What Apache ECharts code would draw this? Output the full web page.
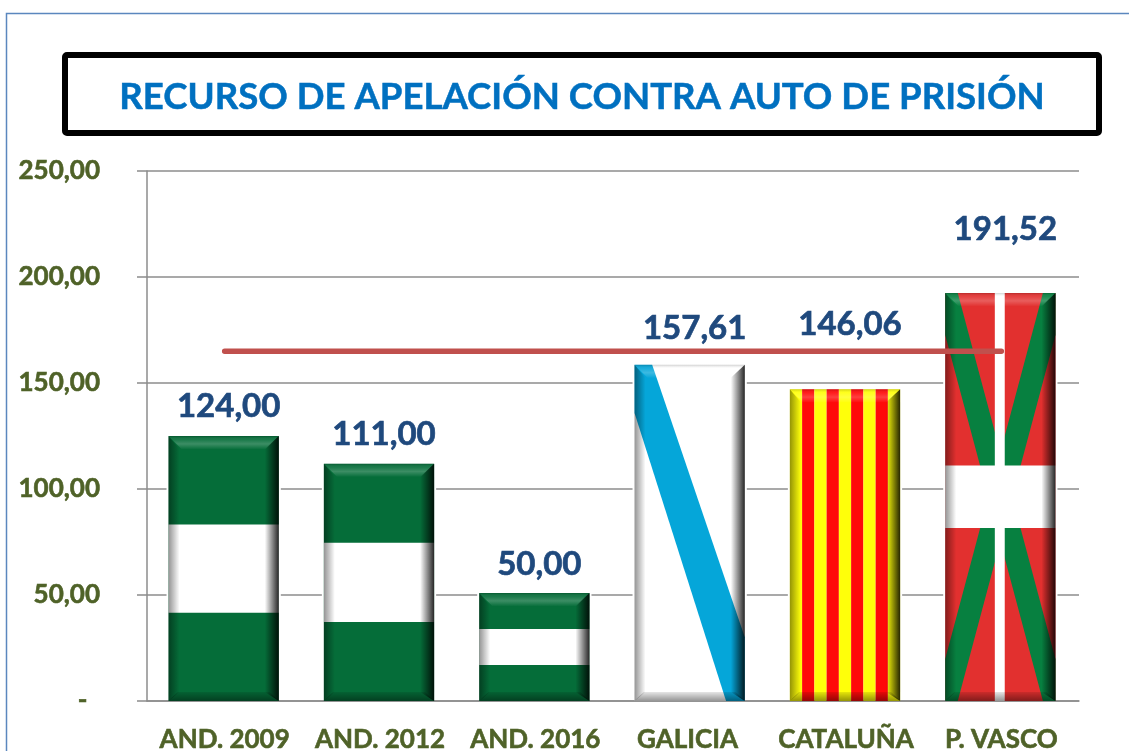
<!DOCTYPE html>
<html>
<head>
<meta charset="utf-8">
<title>Recurso de apelación contra auto de prisión</title>
<script src="https://cdn.jsdelivr.net/npm/echarts@6/dist/echarts.min.js"></script>
<style>
    html, body { margin: 0; padding: 0; background: #fff; overflow: hidden; }
    #chart { width: 1129px; height: 751px; }
</style>
</head>
<body>
<div id="chart"></div>
<script>
var categories = ['AND. 2009', 'AND. 2012', 'AND. 2016', 'GALICIA ', 'CATALUÑA', 'P. VASCO'];
var barValues = [124, 111, 50, 157.61, 146.06, 191.52];
var barLabels = ['124,00', '111,00', '50,00', '157,61', '146,06', '191,52'];
var lineValues = [165, 165, 165, 165, 165, 165];
var flags = ['and', 'and', 'and', 'gal', 'cat', 'eus'];
var yTickLabels = { 0: '-  ', 50: '50,00', 100: '100,00', 150: '150,00', 200: '200,00', 250: '250,00' };
var titleText = 'RECURSO DE APELACIÓN CONTRA AUTO DE PRISIÓN';

var FONT = 'Lato, "Open Sans", sans-serif';
var GREEN = '#056d39';
var labelLift = [30, 29, 29, 37, 65, 64];

var chart = echarts.init(document.getElementById('chart'));

// polygon given in fractions of the bar rectangle
function poly(r, pts, color) {
    return {
        type: 'polygon',
        shape: { points: pts.map(function (p) { return [r.x + p[0] * r.w, r.y + p[1] * r.h]; }) },
        style: { fill: color }
    };
}

function box(r, fx0, fy0, fx1, fy1, color) {
    return poly(r, [[fx0, fy0], [fx1, fy0], [fx1, fy1], [fx0, fy1]], color);
}

function flagShapes(kind, r) {
    var out = [];
    if (kind === 'and') {
        out.push(box(r, 0, 0, 1, 1, GREEN));
        out.push(box(r, 0, 1 / 3, 1, 2 / 3, '#ffffff'));
    } else if (kind === 'gal') {
        out.push(box(r, 0, 0, 1, 1, '#ffffff'));
        out.push(poly(r, [[0, 0], [0.16, 0], [1, 0.81], [1, 1], [0.83, 1], [0, 0.143]], '#05a6d9'));
    } else if (kind === 'cat') {
        for (var i = 0; i < 9; i++) {
            out.push(box(r, i / 9, 0, (i + 1) / 9, 1, i % 2 ? '#ff0909' : '#ffff0a'));
        }
    } else {
        out.push(box(r, 0, 0, 1, 1, '#e2302f'));
        out.push(poly(r, [[0, 0], [0.114, 0], [1, 0.897], [1, 1], [0.886, 1], [0, 0.103]], '#078040'));
        out.push(poly(r, [[1, 0], [0.886, 0], [0, 0.897], [0, 1], [0.114, 1], [1, 0.103]], '#078040'));
        out.push(box(r, 0.45, 0, 0.54, 1, '#ffffff'));
        out.push(box(r, 0, 0.423, 1, 0.576, '#ffffff'));
    }
    return out;
}

// bevel look of the original bars, mitred at the corners
function bevelShapes(r) {
    var LG = echarts.graphic.LinearGradient;
    var x0 = r.x, x1 = r.x + r.w, y0 = r.y, y1 = r.y + r.h;
    return [
        {
            type: 'polygon',
            shape: { points: [[x0, y0], [x1, y0], [x1 - 13, y0 + 13], [x0 + 13, y0 + 13]] },
            style: { fill: new LG(0, 0, 0, 1, [
                { offset: 0, color: 'rgba(0,0,0,0.18)' },
                { offset: 0.25, color: 'rgba(255,255,255,0.08)' },
                { offset: 0.6, color: 'rgba(255,255,255,0.22)' },
                { offset: 1, color: 'rgba(255,255,255,0.02)' }
            ]) }
        },
        {
            type: 'polygon',
            shape: { points: [[x0, y1], [x1, y1], [x1 - 9, y1 - 9], [x0 + 9, y1 - 9]] },
            style: { fill: new LG(0, 1, 0, 0, [
                { offset: 0, color: 'rgba(0,0,0,0.42)' },
                { offset: 1, color: 'rgba(0,0,0,0.10)' }
            ]) }
        },
        {
            type: 'polygon',
            shape: { points: [[x0, y0], [x0 + 11, y0 + 13], [x0 + 11, y1 - 9], [x0, y1]] },
            style: { fill: new LG(0, 0, 1, 0, [
                { offset: 0, color: 'rgba(0,0,0,0.42)' },
                { offset: 1, color: 'rgba(0,0,0,0)' }
            ]) }
        },
        {
            type: 'polygon',
            shape: { points: [[x1, y0], [x1 - 14, y0 + 13], [x1 - 14, y1 - 9], [x1, y1]] },
            style: { fill: new LG(0, 0, 1, 0, [
                { offset: 0, color: 'rgba(0,0,0,0)' },
                { offset: 1, color: 'rgba(0,0,0,0.85)' }
            ]) }
        }
    ];
}

function renderBar(params, api) {
    var idx = params.dataIndex;
    var top = api.coord([idx, api.value(1)]);
    var base = api.coord([idx, 0]);
    var w = api.size([1, 0])[0] * 0.71;
    // the bars carry a 2px outline above their value
    var r = { x: top[0] - w / 2 - 1, y: top[1] - 2, w: w, h: base[1] - top[1] + 2 };
    var halo = {
        type: 'rect',
        shape: { x: r.x - 2, y: r.y - 2, width: r.w + 4, height: r.h + 1 },
        style: { fill: '#fff' }
    };
    var label = {
        type: 'text',
        style: {
            text: barLabels[idx],
            x: top[0] + 4,
            y: r.y - labelLift[idx],
            fill: '#1f497d',
            stroke: '#1f497d',
            lineWidth: 0.7,
            font: 'bold 33px ' + FONT,
            textAlign: 'center',
            textVerticalAlign: 'middle'
        }
    };
    return {
        type: 'group',
        children: [halo].concat(flagShapes(flags[idx], r), bevelShapes(r), [label])
    };
}

var axisColor = '#8c8c8c';
var tickFont = {
    color: '#4f6228',
    fontFamily: FONT,
    fontWeight: 'bold',
    fontSize: 26,
    textBorderColor: '#4f6228',
    textBorderWidth: 0.6
};

chart.setOption({
    animation: false,
    backgroundColor: '#fff',
    title: {
        text: titleText,
        left: 577,
        top: 74,
        textAlign: 'center',
        textStyle: {
            color: '#0070c0',
            fontFamily: FONT,
            fontWeight: 'bold',
            fontSize: 36.6,
            textBorderColor: '#0070c0',
            textBorderWidth: 0.5
        }
    },
    graphic: [
        {
            type: 'polyline',
            silent: true,
            z: -1,
            shape: { points: [[6.5, 751], [6.5, 13.5], [1129, 13.5]] },
            style: { stroke: '#5b87be', lineWidth: 1.5, fill: null }
        },
        {
            type: 'rect',
            silent: true,
            z: -1,
            shape: { x: 65, y: 55, width: 1034, height: 78, r: 2 },
            style: { fill: '#fff', stroke: '#000', lineWidth: 6 }
        }
    ],
    grid: { left: 147, right: 50, top: 171, bottom: 50, outerBoundsMode: 'none' },
    xAxis: {
        type: 'category',
        data: categories,
        axisLine: { lineStyle: { color: axisColor, width: 1.5 } },
        axisTick: { length: 10, lineStyle: { color: axisColor, width: 1.5 } },
        axisLabel: Object.assign({ margin: 26, interval: 0 }, tickFont)
    },
    yAxis: {
        type: 'value',
        min: 0,
        max: 250,
        interval: 50,
        axisLine: { show: true, lineStyle: { color: axisColor, width: 1.5 } },
        axisTick: { show: true, length: 10, lineStyle: { color: axisColor, width: 1.5 } },
        splitLine: { lineStyle: { color: axisColor, width: 1.5 } },
        axisLabel: Object.assign({
            margin: 47,
            formatter: function (v) { return yTickLabels[v]; }
        }, tickFont)
    },
    series: [
        {
            type: 'custom',
            z: 2,
            clip: false,
            renderItem: renderBar,
            encode: { x: 0, y: 1 },
            data: barValues.map(function (v, i) { return [i, v]; })
        },
        {
            type: 'line',
            z: 5,
            symbol: 'none',
            data: lineValues,
            lineStyle: { color: '#c0504d', width: 5.5, cap: 'round' }
        }
    ]
});
</script>
</body>
</html>
